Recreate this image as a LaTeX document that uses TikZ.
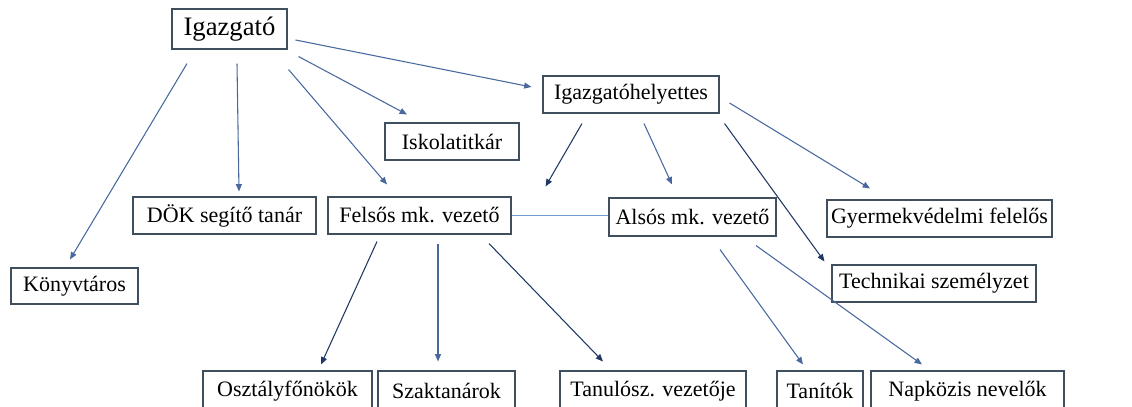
\documentclass[tikz,border=0pt]{standalone}
\usepackage{fontspec}
\setmainfont{Liberation Serif}
\usetikzlibrary{arrows.meta,calc}

\definecolor{boxline}{RGB}{64,79,94}
\definecolor{steel}{RGB}{72,104,158}
\definecolor{navy}{RGB}{31,56,100}
\definecolor{lightlink}{RGB}{112,158,206}

\tikzset{every picture/.style={line width=0.75pt}}
\tikzset{
  box/.style={draw=boxline, line width=0.8pt, fill=white, inner sep=0pt,
    minimum height=27.75pt, font=\fontsize{16.5}{20}\selectfont},
  arr/.style={draw=steel, line width=0.8pt, -{Triangle[length=5.5pt,width=4.5pt]}},
  darr/.style={arr, draw=navy},
}

\begin{document}
\begin{tikzpicture}[x=0.75pt,y=0.75pt,yscale=-1,xscale=1]
\useasboundingbox (0,0) rectangle (1132,407);

% top level
\node [box, minimum width=86.25pt, minimum height=30pt, font=\fontsize{20}{24}\selectfont] (ig) at (229.5,29) {Igazgató};
\node [box, minimum width=132pt] (ih) at (631,94.5) {Igazgatóhelyettes};
\node [box, minimum width=100.5pt] (isk) at (452,141.5) {Iskolatitkár};

% middle level
\node [box, minimum width=137.25pt] (dok) at (224.5,215.5) {DÖK segítő tanár};
\node [box, minimum width=137.25pt] (fel) at (419.5,215.5) {Felsős mk. vezető};
\node [box, minimum width=125.25pt, minimum height=28.5pt] (als) at (692.5,217) {Alsós mk. vezető};
\node [box, minimum width=168.75pt] (gyv) at (939.5,218.5) {Gyermekvédelmi felelős};
\node [box, minimum width=153pt] (tech) at (934,283.5) {Technikai személyzet};
\node [box, minimum width=95.25pt, minimum height=27pt] (konyv) at (74.5,286) {Könyvtáros};

% bottom level (cut by the frame)
\node [box, minimum width=126.75pt, minimum height=30pt] (osz) at (287.5,391) {Osztályfőnökök};
\node [box, minimum width=102.75pt, minimum height=30pt] (szak) at (446.5,391) {Szaktanárok};
\node [box, minimum width=139.5pt, minimum height=30pt] (tan) at (653,391) {Tanulósz. vezetője};
\node [box, minimum width=64.5pt, minimum height=30pt] (tanit) at (820,391) {Tanítók};
\node [box, minimum width=144.75pt, minimum height=30pt] (nap) at (967.5,391) {Napközis nevelők};

% Igazgató
\draw [arr] ($(ig.east)+(8,11)$) -- ($(ih.west)+(-11,-7.5)$);
\draw [arr] ($(ig.south east)+(11,7)$) -- ($(isk.north)+(-45,-8)$);
\draw [arr] ($(ig.south east)+(1,20)$) -- ($(fel.north)+(-32.5,-12)$);
\draw [arr] ($(ig.south)+(7.5,14)$) -- ($(dok.north)+(14.5,-5)$);
\draw [arr] ($(ig.south)+(-42.5,14)$) -- ($(konyv.north)+(-4.5,-8)$);

% Igazgatóhelyettes
\draw [darr] ($(ih.south)+(-49,10)$) -- ($(fel.north east)+(34,-10)$);
\draw [arr] ($(ih.south)+(13,10)$) -- ($(als.north)+(-20.5,-13)$);
\draw [darr] ($(ih.south east)+(5,10)$) -- ($(tech.north west)+(-7,-3)$);
\draw [arr] ($(ih.east)+(10,8.5)$) -- ($(gyv.north)+(-69.5,-11)$);

% link between the two heads
\draw [lightlink, line width=0.9pt] (fel.east) -- (fel.east -| als.west);

% Felsős mk. vezető
\draw [darr] ($(fel.south)+(-42.5,7)$) -- ($(osz.north)+(33.5,-6)$);
\draw [arr] ($(fel.south)+(18.5,9)$) -- ($(szak.north)+(-8.5,-9)$);
\draw [darr] ($(fel.south)+(69.5,9)$) -- ($(tan.north)+(-50,-9)$);

% Alsós mk. vezető
\draw [arr] ($(als.south)+(27.5,13)$) -- ($(tanit.north)+(-17,-6)$);
\draw [arr] ($(als.south)+(63.5,9)$) -- ($(nap.north)+(-45.5,-6)$);

\end{tikzpicture}
\end{document}
